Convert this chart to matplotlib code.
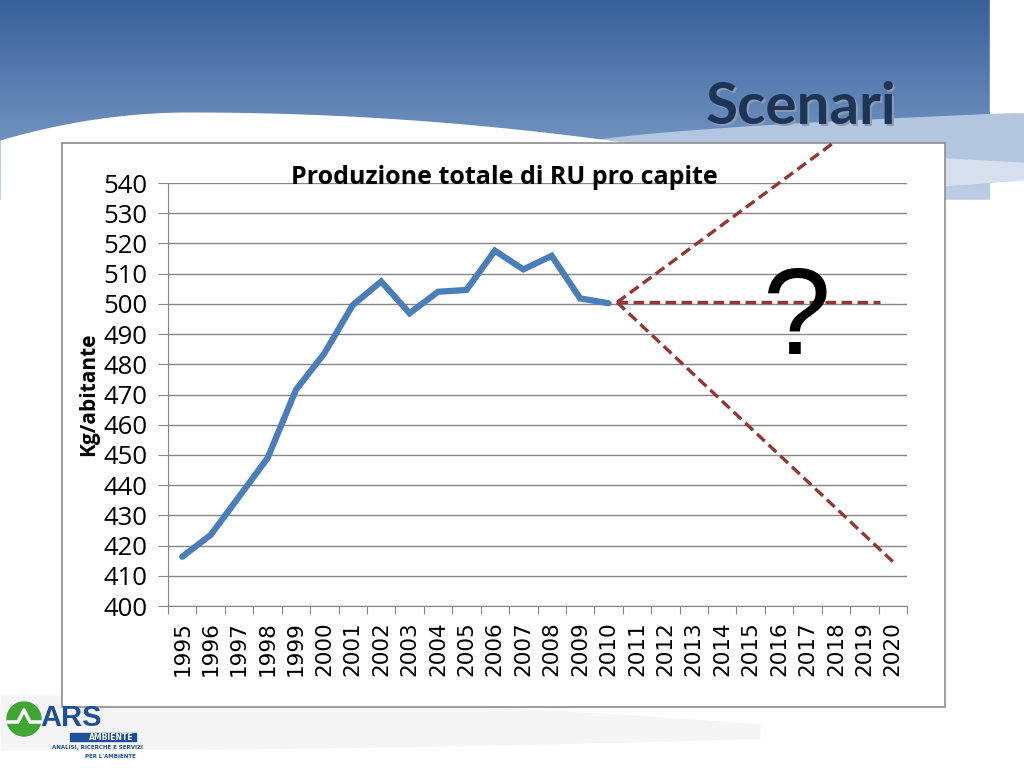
import numpy as np
import matplotlib.pyplot as plt
from matplotlib.patches import Rectangle, Circle

# data
years = list(range(1995, 2021))
hist_years = list(range(1995, 2011))
hist_values = [416.3, 423.5, 436.2, 448.9, 471.5, 483.6, 499.6, 507.4,
               496.9, 504.0, 504.6, 517.6, 511.4, 515.9, 501.8, 500.2]
# scenario lines (start, end) as [year, value]
scen_up_years = [2010.3, 2017.9]
scen_up_values = [500.5, 553.2]
scen_flat_years = [2010.3, 2019.55]
scen_flat_values = [500.5, 500.5]
scen_down_years = [2010.3, 2020.0]
scen_down_values = [500.5, 414.7]

title = 'Produzione totale di RU pro capite'
ylabel = 'Kg/abitante'
slide_title = 'Scenari'

fig = plt.figure(figsize=(10.24, 7.68), dpi=100)

# slide background in pixel coordinates
bg = fig.add_axes([0, 0, 1, 1])
bg.set_xlim(0, 1024)
bg.set_ylim(768, 0)
bg.axis('off')

grad = np.linspace(0, 1, 256).reshape(-1, 1)
top_c = np.array([0.22, 0.38, 0.60])
bot_c = np.array([0.55, 0.67, 0.83])
img = top_c + (bot_c - top_c) * grad[..., None]
img = img.reshape(256, 1, 3)
bg.imshow(img, extent=[0, 990, 215, 0], aspect='auto', zorder=0)

# light blue band on the right
xs = np.linspace(560, 1024, 80)
t = (xs - 560) / 464
upper = 150 - 38 * np.sqrt(t)
lower = 215 - 35 * t
bg.fill_between(xs, upper, lower, color='#b3c6e0', zorder=1, lw=0)
bg.add_patch(Rectangle((990, 0), 34, 112, color='white', zorder=1))

# white wave on the left
xw = np.linspace(0, 1024, 200)
wave = 112 + 28 * ((xw - 190) / 190) ** 2 * (xw < 190) + (xw >= 190) * (0.00016 * (xw - 190) ** 2)
wave = np.minimum(wave, 215)
bg.fill_between(xw, wave, 215, where=xw < 760, color='white', zorder=2, lw=0)
xw2 = np.linspace(300, 1024, 120)
wave2 = 130 + 0.00002 * (xw2 - 300) ** 2 + 0.03 * (xw2 - 300)
bg.fill_between(xw2, wave2, 215, color='white', alpha=0.45, zorder=2, lw=0)
bg.add_patch(Rectangle((0, 200), 1024, 568, color='white', zorder=2))

# faint swoosh at the bottom
xb = np.linspace(0, 760, 100)
bg.fill_between(xb, 695 + 0.00005 * xb ** 2, 750 - 0.00002 * xb ** 2,
                color='#f5f5f5', zorder=2, lw=0)

# slide title with shadow
bg.text(803, 109, slide_title, fontsize=42, fontweight='bold', family='Lato',
        color='#8d9bb0', ha='center', va='center', zorder=3)
bg.text(801, 107, slide_title, fontsize=42, fontweight='bold', family='Lato',
        color='#1c3557', ha='center', va='center', zorder=4)

# chart frame
bg.add_patch(Rectangle((62, 143), 883, 564, facecolor='white',
                       edgecolor='#8c8c8c', lw=1.2, zorder=5))

# logo
bg.add_patch(Circle((24, 719), 17, color='#3fa535', zorder=6))
bg.plot([8, 18, 24, 30, 40], [722, 722, 710, 722, 722], color='white', lw=2.5, zorder=7)
bg.text(40, 726, 'ARS', fontsize=21, fontweight='bold', family='Liberation Sans',
        color='#1d4f9c', va='baseline', zorder=7)
bg.add_patch(Rectangle((70, 733), 66, 8, color='#1d4f9c', zorder=7))
bg.text(134, 737, 'AMBIENTE', fontsize=5.5, fontweight='bold', color='white',
        ha='right', va='center', zorder=8)
bg.text(98, 748, 'ANALISI, RICERCHE E SERVIZI', fontsize=4, fontweight='bold',
        color='#1d4f9c', ha='center', va='center', zorder=7)
bg.text(110, 756, "PER L'AMBIENTE", fontsize=4, fontweight='bold',
        color='#1d4f9c', ha='center', va='center', zorder=7)

# chart axes
ax = fig.add_axes([168 / 1024, 1 - 606 / 768, 739 / 1024, 423 / 768], zorder=10)
ax.patch.set_alpha(0)
x_hist = [y - 1995 for y in hist_years]
ax.plot(x_hist, hist_values, color='#4a7ebb', lw=4.5, solid_capstyle='round',
        solid_joinstyle='miter', zorder=4)

for sy, sv in [(scen_up_years, scen_up_values), (scen_flat_years, scen_flat_values),
               (scen_down_years, scen_down_values)]:
    ax.plot([y - 1995 for y in sy], sv, color='#943634', lw=2.4,
            dashes=(3.2, 1.6), clip_on=False, zorder=5)

ax.set_xlim(-0.5, len(years) - 0.5)
ax.set_ylim(400, 540)
ax.set_yticks(range(400, 541, 10))
ax.yaxis.grid(True, color='#868686', lw=1)
ax.set_axisbelow(True)
ax.tick_params(axis='y', length=7, color='#868686', labelsize=18.5, pad=8)
for lab in ax.get_yticklabels():
    lab.set_family('Open Sans')

ax.set_xticks(np.arange(-0.5, len(years), 1))
ax.set_xticklabels([])
ax.set_xticks(range(len(years)), minor=True)
ax.set_xticklabels([str(y) for y in years], minor=True, rotation=90,
                   fontsize=15.5, family='DejaVu Sans')
ax.tick_params(axis='x', which='major', length=6, color='#868686')
ax.tick_params(axis='x', which='minor', length=0, pad=11)

for s in ['top', 'right']:
    ax.spines[s].set_visible(False)
for s in ['left', 'bottom']:
    ax.spines[s].set_color('#868686')

ax.set_ylabel(ylabel, fontsize=15, fontweight='bold', family='Open Sans', labelpad=3)
ax.text(0.455, 1.012, title, transform=ax.transAxes, fontsize=18,
        fontweight='bold', family='Open Sans', ha='center', va='center')
ax.text(21.63, 494, '?', fontsize=88, family='Liberation Sans',
        ha='center', va='center', zorder=6)

fig.savefig('out.png', dpi=100)
